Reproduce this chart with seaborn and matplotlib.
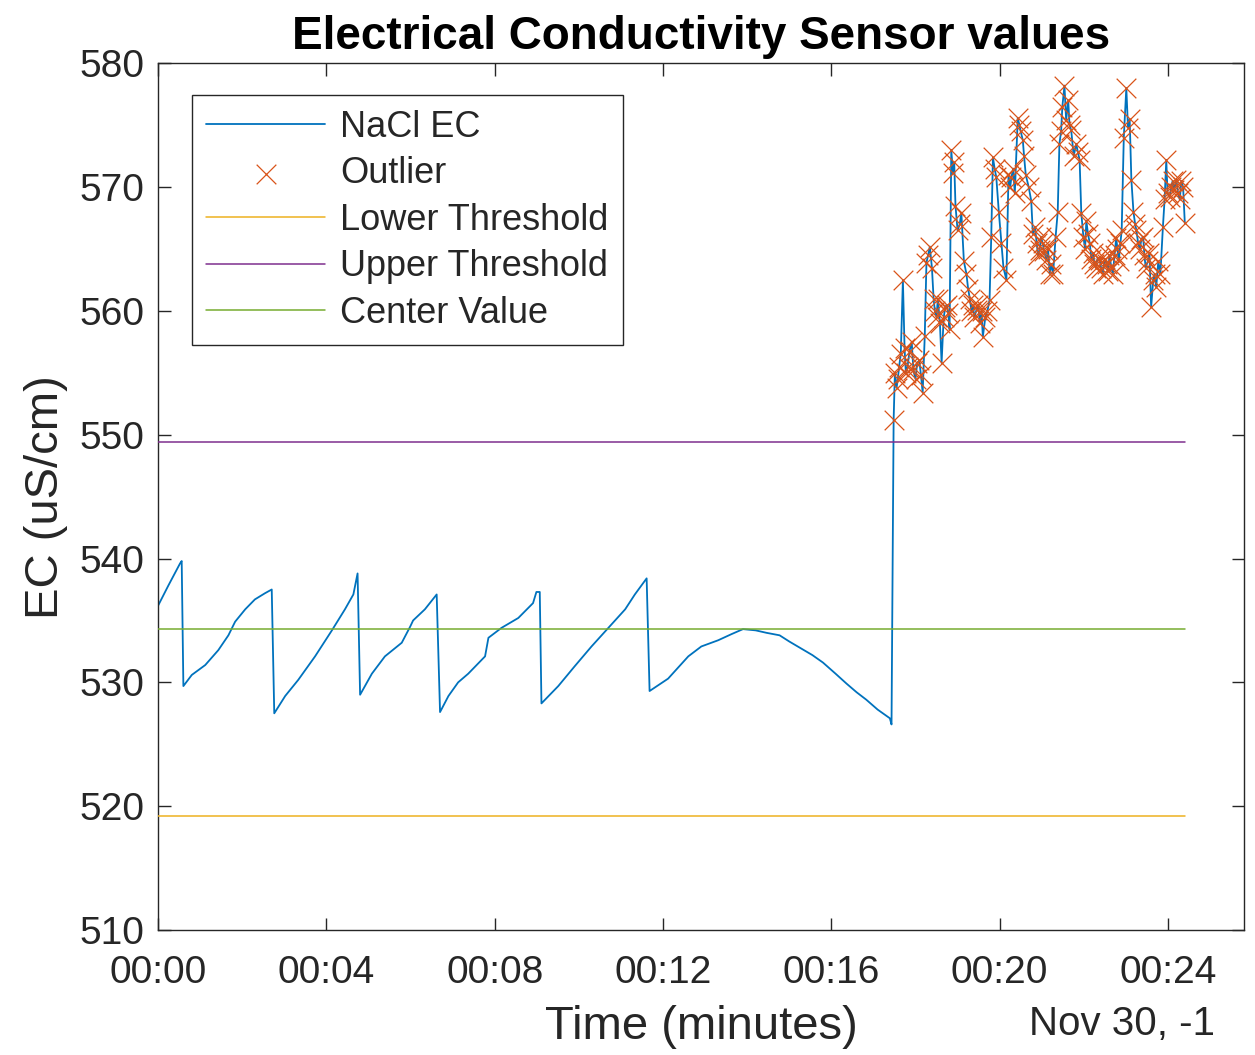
import matplotlib
matplotlib.use("Agg")
import matplotlib.pyplot as plt
import seaborn as sns
import numpy as np
import pandas as pd
from matplotlib.ticker import FuncFormatter

# ---- data (time in minutes, EC in uS/cm) ----
base_time = [0.00, 0.24, 0.52, 0.56,
             0.60, 0.80, 1.12, 1.43, 1.67, 1.83, 2.07, 2.30, 2.54, 2.70,
             2.76, 3.02, 3.33, 3.73, 4.13, 4.44, 4.64, 4.74,
             4.80, 5.08, 5.39, 5.79, 5.99, 6.06, 6.34, 6.62,
             6.70, 6.90, 7.13, 7.37, 7.77, 7.85, 8.16, 8.56, 8.91, 8.99, 9.07,
             9.11, 9.51, 9.90, 10.30, 10.70, 11.10, 11.33, 11.61,
             11.68, 12.12, 12.60, 12.91, 13.31, 13.63, 13.90, 14.20, 14.46, 14.77, 15.00, 15.25,
             15.55, 15.80, 16.10, 16.36, 16.60, 16.83, 17.10, 17.39, 17.43]
base_ec = [536.2, 537.8, 539.6, 539.8,
           529.7, 530.6, 531.4, 532.6, 533.8, 534.9, 535.9, 536.7, 537.2, 537.5,
           527.5, 528.9, 530.2, 532.1, 534.2, 535.9, 537.1, 538.8,
           529.0, 530.7, 532.1, 533.2, 534.5, 535.0, 535.9, 537.1,
           527.6, 528.9, 530.0, 530.7, 532.1, 533.6, 534.4, 535.2, 536.4, 537.3, 537.3,
           528.3, 529.7, 531.3, 532.9, 534.4, 535.9, 537.1, 538.4,
           529.3, 530.3, 532.1, 532.9, 533.4, 533.9, 534.3, 534.2, 534.0, 533.8, 533.3, 532.8,
           532.2, 531.6, 530.7, 529.9, 529.2, 528.6, 527.8, 527.1, 526.6]

high_time = [17.48, 17.51, 17.55, 17.58, 17.61, 17.65, 17.70, 17.74, 17.77, 17.81,
             17.86, 17.91, 17.95, 18.00, 18.04, 18.09, 18.13, 18.17, 18.22, 18.26,
             18.30, 18.34, 18.39, 18.43, 18.46, 18.50, 18.53, 18.58, 18.62, 18.67,
             18.71, 18.74, 18.78, 18.81, 18.85, 18.89, 18.92, 18.95, 19.00, 19.05,
             19.09, 19.15, 19.21, 19.25, 19.29, 19.33, 19.36, 19.40, 19.45, 19.49,
             19.53, 19.57, 19.60, 19.66, 19.71, 19.76, 19.80, 19.84, 19.88, 19.92,
             19.98, 20.04, 20.09, 20.16, 20.21, 20.25, 20.28, 20.32, 20.36, 20.43,
             20.47, 20.50, 20.55, 20.58, 20.62, 20.69, 20.75, 20.79, 20.84, 20.88,
             20.91, 20.95, 20.98, 21.02, 21.06, 21.11, 21.15, 21.19, 21.23, 21.27,
             21.33, 21.38, 21.42, 21.46, 21.49, 21.54, 21.58, 21.63, 21.66, 21.70,
             21.76, 21.82, 21.86, 21.90, 21.94, 21.99, 22.03, 22.06, 22.10, 22.14,
             22.18, 22.22, 22.25, 22.28, 22.33, 22.38, 22.41, 22.45, 22.50, 22.54,
             22.58, 22.61, 22.65, 22.69, 22.73, 22.77, 22.80, 22.83, 22.87, 22.90,
             22.95, 23.01, 23.05, 23.09, 23.13, 23.18, 23.22, 23.25, 23.29, 23.33,
             23.37, 23.41, 23.44, 23.47, 23.52, 23.56, 23.60, 23.65, 23.68, 23.72,
             23.77, 23.82, 23.88, 23.92, 23.96, 23.99, 24.04, 24.08, 24.11, 24.15,
             24.20, 24.24, 24.28, 24.32, 24.36, 24.40]
high_ec = [551.2, 555.0, 553.8, 554.5, 555.5, 556.5, 562.5, 557.0, 555.0, 555.5,
           556.8, 557.5, 555.2, 554.5, 555.8, 556.0, 554.8, 553.4, 558.0, 563.9,
           564.5, 565.2, 563.5, 561.0, 560.0, 559.5, 561.0, 559.0, 555.8, 559.5,
           560.3, 560.5, 559.8, 558.5, 573.0, 571.1, 572.0, 568.5, 566.5, 567.0,
           567.9, 564.0, 563.0, 561.8, 561.0, 560.0, 560.5, 559.5, 560.1, 560.5,
           559.0, 560.0, 557.9, 559.5, 560.0, 560.9, 566.0, 572.4, 571.5, 570.8,
           568.0, 565.5, 563.5, 562.5, 571.0, 570.0, 570.8, 571.5, 569.5, 575.6,
           575.0, 574.5, 573.8, 572.5, 571.0, 570.0, 568.9, 566.2, 566.8, 565.5,
           564.5, 564.9, 566.0, 565.5, 564.8, 564.1, 565.0, 563.0, 563.8, 563.0,
           566.0, 568.0, 573.5, 574.5, 576.5, 578.2, 575.4, 577.0, 575.0, 574.6,
           572.5, 573.5, 572.8, 572.2, 567.9, 566.0, 565.0, 567.3, 566.2, 565.5,
           564.2, 564.7, 563.8, 563.5, 564.3, 564.1, 563.5, 563.0, 564.2, 563.8,
           563.2, 564.5, 563.6, 563.0, 564.5, 565.9, 565.0, 564.0, 565.5, 566.5,
           574.0, 578.0, 574.8, 575.5, 570.6, 568.0, 567.0, 566.5, 565.5, 565.0,
           565.8, 566.0, 564.5, 563.5, 564.0, 564.7, 560.3, 562.5, 563.0, 561.9,
           564.0, 563.0, 566.8, 569.0, 572.2, 569.5, 569.2, 570.0, 570.5, 569.8,
           570.6, 569.5, 569.0, 570.5, 570.0, 567.1]

lower_threshold = 519.2
upper_threshold = 549.4
center_value = 534.3

x_ticks = [0, 4, 8, 12, 16, 20, 24]
y_ticks = [510, 520, 530, 540, 550, 560, 570, 580]
date_label = "Nov 30, -1"

# ---- frames ----
ec = pd.DataFrame({"t": base_time + high_time, "ec": base_ec + high_ec})
out = ec[ec["ec"] > upper_threshold]
t_span = [ec["t"].min(), ec["t"].max()]
thr = pd.DataFrame({"t": t_span * 3,
                    "v": [lower_threshold] * 2 + [upper_threshold] * 2 + [center_value] * 2,
                    "name": ["Lower Threshold"] * 2 + ["Upper Threshold"] * 2 + ["Center Value"] * 2})

sns.set_style("ticks", {"xtick.direction": "in", "ytick.direction": "in"})
plt.rcParams["font.family"] = ["Liberation Sans", "DejaVu Sans"]

fig = plt.figure(figsize=(12.55, 10.55), dpi=100)
ax = fig.add_axes([0.126, 0.1185, 0.865, 0.8215])

BLUE, ORANGE, YELLOW, PURPLE, GREEN = "#0072BD", "#D95319", "#EDB120", "#7E2F8E", "#77AC30"

sns.lineplot(data=ec, x="t", y="ec", color=BLUE, lw=1.3, estimator=None, sort=False,
             label="NaCl EC", ax=ax)
sns.scatterplot(data=out, x="t", y="ec", marker="x", color=ORANGE, s=200, linewidth=0.9,
                label="Outlier", ax=ax, zorder=3)
for name, col in [("Lower Threshold", YELLOW), ("Upper Threshold", PURPLE), ("Center Value", GREEN)]:
    d = thr[thr["name"] == name]
    sns.lineplot(data=d, x="t", y="v", color=col, lw=1.1, estimator=None, label=name, ax=ax, zorder=4)

ax.set_xlim(0, 25.8)
ax.set_ylim(510, 580)
ax.set_xticks(x_ticks)
ax.set_yticks(y_ticks)
ax.xaxis.set_major_formatter(FuncFormatter(lambda v, p: "%02d:%02d" % (int(v) // 60, int(v) % 60)))
ax.tick_params(axis="both", which="both", direction="in", length=9, width=1.0, colors="#262626",
               labelsize=28, top=True, right=True)
ax.tick_params(axis="x", pad=18)
ax.tick_params(axis="y", pad=10)
for s in ax.spines.values():
    s.set_visible(True)
    s.set_color("#262626")
    s.set_linewidth(1.0)

ax.set_title("Electrical Conductivity Sensor values", fontsize=33, fontweight="bold", pad=10, color="black")
ax.set_xlabel("Time (minutes)", fontsize=34, color="#262626", labelpad=10)
ax.set_ylabel("EC (uS/cm)", fontsize=34, color="#262626", labelpad=8)
fig.text(1215 / 1255, 1 - 1024 / 1055, date_label, ha="right", va="center", fontsize=29, color="#262626")

leg = ax.legend(loc="upper left", bbox_to_anchor=(0.031, 0.963), borderaxespad=0, fontsize=26,
                frameon=True, fancybox=False, framealpha=1, edgecolor="#262626",
                handlelength=3.3, handletextpad=0.4, labelspacing=0.32, borderpad=0.4)
leg.get_frame().set_linewidth(1.0)

fig.savefig("out.png", dpi=100)
